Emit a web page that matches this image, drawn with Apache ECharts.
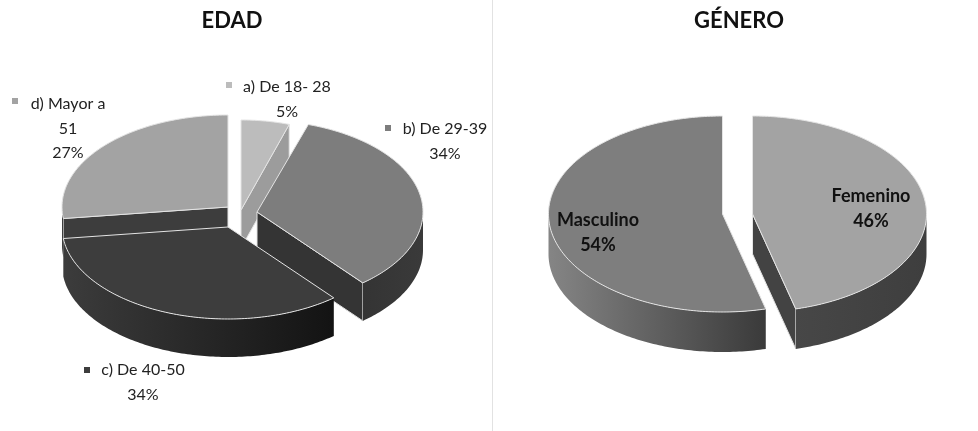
<!DOCTYPE html>
<html>
<head>
<meta charset="utf-8">
<style>html,body{margin:0;padding:0;background:#fff}#chart{width:978px;height:431px}</style>
<script src="https://cdn.jsdelivr.net/npm/echarts@6/dist/echarts.min.js"></script>
</head>
<body>
<div id="chart"></div>
<script>
// Survey results, in percent
const edadCategories = ['a) De 18- 28', 'b) De 29-39', 'c) De 40-50', 'd) Mayor a\n51'];
const edadValues = [5, 34, 34, 27];
const generoCategories = ['Femenino', 'Masculino'];
const generoValues = [46, 54];

const FONT = 'Lato, "Open Sans", sans-serif';

// Look of each tilted pie: ellipse radii, extrusion depth and per-slice drawing style
const edadStyle = {
  rx: 166, ry: 92, depth: 38, bold: false,
  slices: [
    { apex: [241, 210], rx: 156, ry: 90, top: '#bcbcbc', face: '#9c9c9c', wall: ['#9c9c9c', '#9c9c9c'], order: 2, label: [287, 75], key: [226, 82] },
    { apex: [257, 212], top: '#7d7d7d', face: '#343434', wall: ['#343434', '#3a3a3a'], order: 3, label: [445, 117], key: [385, 125] },
    { apex: [228, 227], top: '#3d3d3d', face: '#343434', wall: ['#3c3c3c', '#131313'], order: 4, label: [143, 358], key: [84, 367] },
    { apex: [228, 207], top: '#a3a3a3', face: '#3d3d3d', wall: ['#3d3d3d', '#3d3d3d'], order: 1, label: [68, 92], key: [12, 98] }
  ]
};
const generoStyle = {
  rx: 174, ry: 98, depth: 40, bold: true,
  slices: [
    { apex: [752.5, 214], top: '#a3a3a3', face: '#434343', wall: ['#474747', '#3e3e3e'], order: 1, label: [871, 183] },
    { apex: [722.5, 214], top: '#7e7e7e', face: '#3e3e3e', wall: ['#858585', '#3a3a3a'], order: 2, label: [598, 207] }
  ]
};

const RIM = '#e4e4e4';

function cumulative(values) {
  let sum = 0;
  return values.map(v => { const s = sum; sum += v; return s; });
}

function rimPoint(apex, rx, ry, deg, dy) {
  const t = deg * Math.PI / 180;
  return [apex[0] + rx * Math.sin(t), apex[1] - ry * Math.cos(t) + dy];
}

function arcPoints(apex, rx, ry, from, to, dy) {
  const pts = [];
  const steps = Math.max(2, Math.ceil(to - from));
  for (let i = 0; i <= steps; i++) {
    pts.push(rimPoint(apex, rx, ry, from + (to - from) * i / steps, dy));
  }
  return pts;
}

// A slice is built back to front: visible cut face, front rim wall, then its top
function sliceRenderer(style, categories, total) {
  return function (params, api) {
    const value = api.value(0);
    const startPct = api.value(1);
    const s = style.slices[params.dataIndex];
    const rx = s.rx || style.rx;
    const ry = s.ry || style.ry;
    const depth = style.depth;
    const from = startPct / total * 360;
    const to = (startPct + value) / total * 360;
    const base = s.order * 10;
    const children = [];

    const face = deg => {
      const p = rimPoint(s.apex, rx, ry, deg, 0);
      children.push({
        type: 'polygon', z2: base,
        shape: { points: [s.apex, p, [p[0], p[1] + depth], [s.apex[0], s.apex[1] + depth]] },
        style: { fill: s.face, stroke: RIM, lineWidth: 1 }
      });
    };
    if (Math.sin(from * Math.PI / 180) < -1e-6) face(from);
    if (Math.sin(to * Math.PI / 180) > 1e-6) face(to);

    const wallFrom = Math.max(from, 90);
    const wallTo = Math.min(to, 270);
    if (wallTo > wallFrom) {
      const upper = arcPoints(s.apex, rx, ry, wallFrom, wallTo, 0);
      const lower = arcPoints(s.apex, rx, ry, wallFrom, wallTo, depth).reverse();
      children.push({
        type: 'polygon', z2: base + 1,
        shape: { points: upper.concat(lower) },
        style: {
          fill: new echarts.graphic.LinearGradient(0, 0, 1, 0, [
            { offset: 0, color: s.wall[0] }, { offset: 1, color: s.wall[1] }
          ])
        }
      });
    }

    children.push({
      type: 'polygon', z2: base + 2,
      shape: { points: [s.apex].concat(arcPoints(s.apex, rx, ry, from, to, 0)) },
      style: { fill: s.top, stroke: RIM, lineWidth: 1, lineJoin: 'round' }
    });

    children.push({
      type: 'text', z2: 100,
      x: s.label[0], y: s.label[1],
      style: {
        text: categories[params.dataIndex] + '\n' + value + '%',
        font: style.bold ? 'bold 18px ' + FONT : '16px ' + FONT,
        fill: style.bold ? '#111' : '#222',
        align: 'center', verticalAlign: 'top', lineHeight: style.bold ? 25.5 : 24.5
      }
    });
    if (s.key) {
      children.push({
        type: 'rect', z2: 100,
        shape: { x: s.key[0], y: s.key[1], width: 6, height: 6 },
        style: { fill: s.top }
      });
    }
    return { type: 'group', children };
  };
}

function pieSeries(name, values, categories, style) {
  const starts = cumulative(values);
  const total = values.reduce((a, b) => a + b, 0);
  return {
    type: 'custom', name, coordinateSystem: 'none', animation: false, silent: true,
    renderItem: sliceRenderer(style, categories, total),
    data: values.map((v, i) => [v, starts[i]])
  };
}

const chart = echarts.init(document.getElementById('chart'), null, { renderer: 'canvas' });
chart.setOption({
  backgroundColor: '#fff',
  animation: false,
  title: [
    { text: 'EDAD', left: 227, top: 5, textAlign: 'center',
      textStyle: { fontFamily: FONT, fontWeight: 'bold', fontSize: 22, color: '#111' } },
    { text: 'GÉNERO', left: 734, top: 5, textAlign: 'center',
      textStyle: { fontFamily: FONT, fontWeight: 'bold', fontSize: 22, color: '#111' } }
  ],
  graphic: [{
    type: 'line', silent: true,
    shape: { x1: 492.5, y1: 0, x2: 492.5, y2: 431 },
    style: { stroke: '#e2e2e2', lineWidth: 1 }
  }],
  series: [
    pieSeries('EDAD', edadValues, edadCategories, edadStyle),
    pieSeries('GÉNERO', generoValues, generoCategories, generoStyle)
  ]
});
</script>
</body>
</html>
